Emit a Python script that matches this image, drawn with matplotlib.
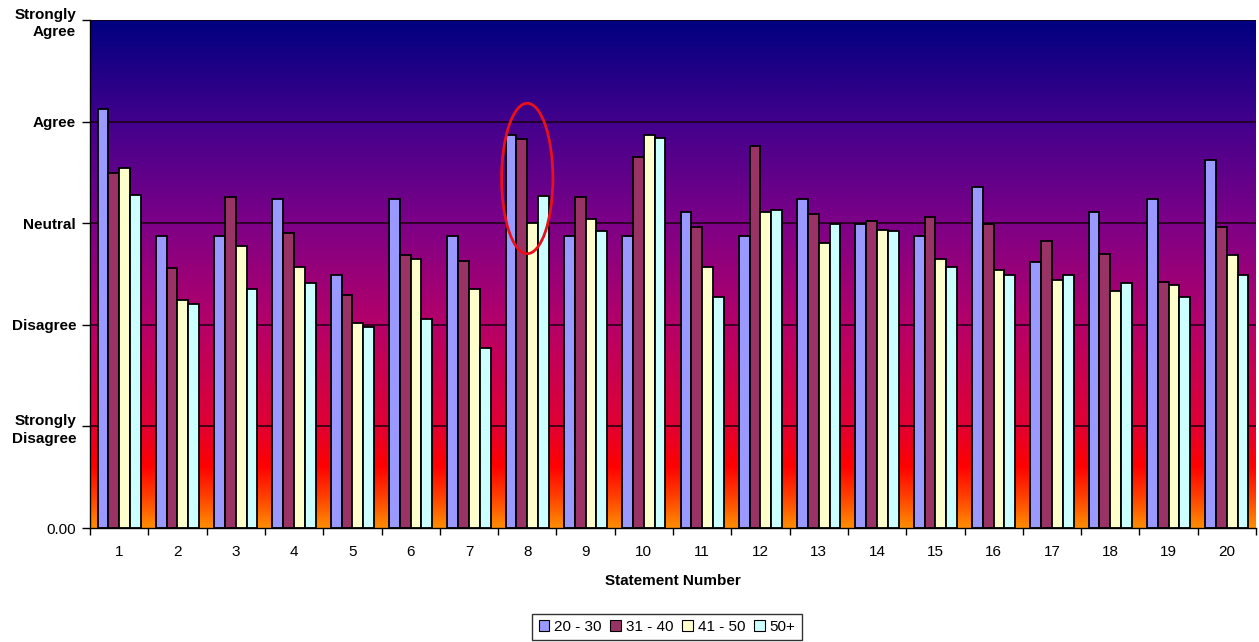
import numpy as np
import matplotlib
matplotlib.use("Agg")
import matplotlib.pyplot as plt
from matplotlib.colors import LinearSegmentedColormap
from matplotlib.patches import Ellipse
from matplotlib.transforms import ScaledTranslation

plt.rcParams['font.family'] = ['Liberation Sans', 'DejaVu Sans']

statements = [str(i) for i in range(1, 21)]
age_groups = ["20 - 30", "31 - 40", "41 - 50", "50+"]

age_20_30 = [4.12, 2.87, 2.87, 3.24, 2.49, 3.24, 2.87, 3.87, 2.87, 2.87,
             3.11, 2.87, 3.24, 2.99, 2.87, 3.36, 2.62, 3.11, 3.24, 3.62]
age_31_40 = [3.49, 2.56, 3.26, 2.90, 2.29, 2.69, 2.63, 3.83, 3.26, 3.65,
             2.96, 3.76, 3.09, 3.02, 3.06, 2.99, 2.82, 2.70, 2.42, 2.96]
age_41_50 = [3.54, 2.24, 2.78, 2.57, 2.02, 2.65, 2.35, 3.00, 3.04, 3.87,
             2.57, 3.11, 2.81, 2.93, 2.65, 2.54, 2.44, 2.33, 2.39, 2.69]
age_50_up = [3.28, 2.20, 2.35, 2.41, 1.98, 2.06, 1.77, 3.27, 2.92, 3.84,
             2.27, 3.13, 2.99, 2.92, 2.57, 2.49, 2.49, 2.41, 2.27, 2.49]

scale_ticks = [0, 1, 2, 3, 4, 5]
scale_labels = ["0.00", "Strongly\nDisagree", "Disagree", "Neutral", "Agree", "Strongly\nAgree"]

highlight = 8  # statement circled on the chart

series = [age_20_30, age_31_40, age_41_50, age_50_up]
colors = ["#9999FF", "#993366", "#FFFFCC", "#CCFFFF"]

fig = plt.figure(figsize=(12.59, 6.42), dpi=100)
ax = fig.add_axes([90 / 1259, 114 / 642, 1166 / 1259, 508 / 642])

n = len(statements)
x = np.arange(n)
ax.set_xlim(-0.5, n - 0.5)
ax.set_ylim(0, 5)

# fire-style background, orange at the bottom up to navy at the top
stops = [
    (0.00, (1.00, 0.55, 0.00)),
    (0.06, (1.00, 0.25, 0.00)),
    (0.12, (1.00, 0.00, 0.00)),
    (0.20, (0.88, 0.00, 0.20)),
    (0.40, (0.71, 0.00, 0.41)),
    (0.60, (0.49, 0.00, 0.53)),
    (0.80, (0.26, 0.00, 0.55)),
    (1.00, (0.00, 0.00, 0.50)),
]
fire = LinearSegmentedColormap.from_list("fire", stops)
grad = np.linspace(0, 1, 512).reshape(-1, 1)
ax.imshow(grad, cmap=fire, origin="lower", aspect="auto",
          extent=(-0.5, n - 0.5, 0, 5), zorder=0)

for y in scale_ticks[1:]:
    ax.axhline(y, color="#1a0010", lw=1.1, zorder=1)

w = 0.185
for i, (vals, c, lab) in enumerate(zip(series, colors, age_groups)):
    ax.bar(x + (i - 1.5) * w, vals, width=w, color=c, edgecolor="black",
           linewidth=1.3, label=lab, zorder=2)

# ring around the highlighted statement
ring = Ellipse((highlight - 1, 3.44), 0.88, 1.48, fill=False,
               edgecolor="#e8101a", lw=2, zorder=3)
ax.add_patch(ring)

ax.set_yticks(scale_ticks)
ax.set_yticklabels(scale_labels, fontsize=11, fontweight="bold", linespacing=1.35)
labels = ax.get_yticklabels()
labels[0].set_fontweight("normal")
for lbl in (labels[1], labels[5]):
    lbl.set_transform(lbl.get_transform() + ScaledTranslation(0, -9 / 72, fig.dpi_scale_trans))
ax.tick_params(axis="y", length=6, width=1, pad=4)

ax.set_xticks(np.arange(-0.5, n, 1.0))
ax.set_xticklabels([])
ax.set_xticks(x, minor=True)
ax.set_xticklabels(statements, minor=True, fontsize=11)
ax.tick_params(axis="x", which="major", length=5, width=1)
ax.tick_params(axis="x", which="minor", length=0, pad=12)
ax.set_xlabel("Statement Number", fontsize=11, fontweight="bold", labelpad=11)

for s in ["top", "right"]:
    ax.spines[s].set_visible(False)
ax.spines["left"].set_linewidth(1)
ax.spines["bottom"].set_linewidth(1)

leg = fig.legend(loc="center", bbox_to_anchor=(667 / 1259, 15 / 642), ncol=4,
                 fontsize=11, frameon=True, fancybox=False, edgecolor="black",
                 handlelength=0.7, handleheight=0.7, handletextpad=0.3,
                 columnspacing=0.6, borderpad=0.4, borderaxespad=0)
leg.get_frame().set_linewidth(1)
for h in leg.legend_handles:
    h.set_linewidth(0.8)

fig.savefig("out.png", dpi=100)
